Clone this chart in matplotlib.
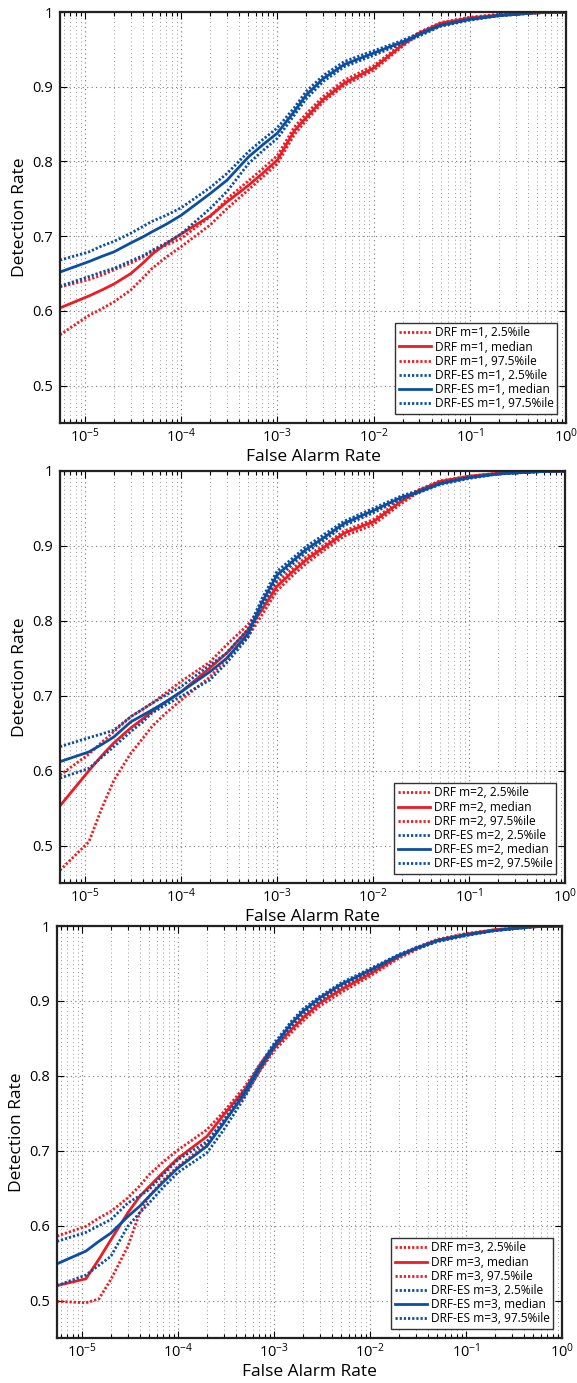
import matplotlib
matplotlib.use('Agg')
import matplotlib.pyplot as plt
from matplotlib.ticker import LogLocator, FixedLocator, FuncFormatter, NullFormatter

plt.rcParams['font.family'] = ['Open Sans', 'DejaVu Sans']
plt.rcParams['mathtext.fontset'] = 'custom'
plt.rcParams['mathtext.rm'] = 'Open Sans'
plt.rcParams['mathtext.it'] = 'Open Sans:italic'
plt.rcParams['mathtext.bf'] = 'Open Sans:bold'

# ---------------- data ----------------
far = [5.5e-6, 1.1e-5, 1.5e-5, 2e-5, 3e-5, 4e-5, 5e-5, 7e-5, 1e-4, 2e-4, 3e-4, 5e-4, 7e-4,
       1e-3, 1.5e-3, 2e-3, 3e-3, 5e-3, 1e-2, 2e-2, 3e-2, 5e-2, 1e-1, 2e-1, 5e-1, 1.0]

# m = 1
drf1_lo  = [0.568, 0.594, 0.603, 0.612, 0.628, 0.644, 0.657, 0.672, 0.686, 0.715, 0.737, 0.762, 0.779,
            0.797, 0.836, 0.855, 0.880, 0.902, 0.922, 0.954, 0.971, 0.984, 0.991, 0.995, 0.999, 1.0]
drf1_med = [0.604, 0.620, 0.628, 0.636, 0.650, 0.664, 0.676, 0.690, 0.703, 0.727, 0.746, 0.768, 0.784,
            0.802, 0.841, 0.859, 0.883, 0.905, 0.925, 0.956, 0.972, 0.985, 0.992, 0.996, 0.999, 1.0]
drf1_hi  = [0.632, 0.642, 0.648, 0.655, 0.664, 0.672, 0.680, 0.688, 0.697, 0.726, 0.750, 0.774, 0.790,
            0.808, 0.846, 0.864, 0.887, 0.909, 0.928, 0.958, 0.973, 0.986, 0.993, 0.997, 0.999, 1.0]
es1_lo   = [0.633, 0.646, 0.652, 0.657, 0.667, 0.674, 0.681, 0.691, 0.703, 0.737, 0.760, 0.797, 0.814,
            0.831, 0.862, 0.884, 0.907, 0.927, 0.942, 0.958, 0.968, 0.981, 0.989, 0.995, 0.999, 1.0]
es1_med  = [0.652, 0.666, 0.673, 0.679, 0.691, 0.699, 0.706, 0.716, 0.728, 0.757, 0.775, 0.806, 0.822,
            0.838, 0.867, 0.889, 0.911, 0.930, 0.945, 0.960, 0.970, 0.982, 0.990, 0.995, 0.999, 1.0]
es1_hi   = [0.668, 0.679, 0.687, 0.693, 0.704, 0.713, 0.720, 0.728, 0.738, 0.765, 0.784, 0.813, 0.829,
            0.845, 0.872, 0.894, 0.915, 0.934, 0.948, 0.962, 0.972, 0.983, 0.991, 0.996, 0.999, 1.0]

# m = 2
drf2_lo  = [0.467, 0.505, 0.550, 0.587, 0.623, 0.643, 0.659, 0.677, 0.694, 0.725, 0.750, 0.779, 0.808,
            0.840, 0.862, 0.876, 0.893, 0.913, 0.928, 0.957, 0.972, 0.985, 0.992, 0.996, 0.999, 1.0]
drf2_med = [0.553, 0.600, 0.620, 0.637, 0.657, 0.669, 0.679, 0.692, 0.705, 0.737, 0.757, 0.788, 0.815,
            0.846, 0.867, 0.881, 0.897, 0.917, 0.932, 0.960, 0.974, 0.986, 0.993, 0.997, 0.999, 1.0]
drf2_hi  = [0.594, 0.622, 0.638, 0.652, 0.672, 0.682, 0.690, 0.704, 0.719, 0.745, 0.768, 0.795, 0.820,
            0.851, 0.871, 0.885, 0.900, 0.920, 0.935, 0.962, 0.975, 0.987, 0.993, 0.997, 0.999, 1.0]
es2_lo   = [0.590, 0.603, 0.618, 0.632, 0.652, 0.665, 0.677, 0.688, 0.699, 0.721, 0.744, 0.778, 0.820,
            0.856, 0.877, 0.891, 0.906, 0.927, 0.944, 0.963, 0.971, 0.982, 0.990, 0.996, 0.999, 1.0]
es2_med  = [0.612, 0.625, 0.635, 0.645, 0.665, 0.674, 0.681, 0.692, 0.705, 0.732, 0.750, 0.783, 0.825,
            0.861, 0.881, 0.895, 0.910, 0.930, 0.947, 0.965, 0.972, 0.983, 0.991, 0.996, 0.999, 1.0]
es2_hi   = [0.632, 0.644, 0.649, 0.654, 0.672, 0.682, 0.690, 0.701, 0.712, 0.741, 0.757, 0.789, 0.830,
            0.866, 0.885, 0.899, 0.914, 0.933, 0.950, 0.967, 0.974, 0.984, 0.992, 0.996, 0.999, 1.0]

# m = 3
drf3_lo  = [0.499, 0.497, 0.502, 0.528, 0.572, 0.617, 0.639, 0.661, 0.679, 0.709, 0.739, 0.775, 0.805,
            0.833, 0.857, 0.873, 0.893, 0.911, 0.933, 0.957, 0.968, 0.980, 0.988, 0.994, 0.999, 1.0]
drf3_med = [0.520, 0.529, 0.555, 0.581, 0.617, 0.639, 0.652, 0.671, 0.690, 0.719, 0.748, 0.782, 0.810,
            0.837, 0.861, 0.877, 0.897, 0.915, 0.936, 0.959, 0.970, 0.981, 0.989, 0.995, 0.999, 1.0]
drf3_hi  = [0.586, 0.599, 0.610, 0.619, 0.637, 0.653, 0.668, 0.685, 0.701, 0.728, 0.752, 0.786, 0.814,
            0.840, 0.864, 0.880, 0.899, 0.918, 0.938, 0.961, 0.971, 0.982, 0.990, 0.995, 0.999, 1.0]
es3_lo   = [0.520, 0.534, 0.547, 0.559, 0.599, 0.617, 0.630, 0.651, 0.671, 0.697, 0.728, 0.772, 0.806,
            0.837, 0.866, 0.883, 0.901, 0.920, 0.939, 0.960, 0.969, 0.979, 0.987, 0.994, 0.999, 1.0]
es3_med  = [0.549, 0.566, 0.579, 0.590, 0.612, 0.626, 0.639, 0.658, 0.677, 0.706, 0.737, 0.778, 0.810,
            0.840, 0.869, 0.886, 0.904, 0.922, 0.941, 0.961, 0.970, 0.980, 0.988, 0.994, 0.999, 1.0]
es3_hi   = [0.579, 0.591, 0.600, 0.608, 0.630, 0.640, 0.648, 0.668, 0.688, 0.712, 0.741, 0.781, 0.813,
            0.843, 0.872, 0.889, 0.906, 0.924, 0.943, 0.962, 0.971, 0.981, 0.989, 0.994, 0.999, 1.0]

series_labels = ['DRF m={m}, 2.5%ile', 'DRF m={m}, median', 'DRF m={m}, 97.5%ile',
                 'DRF-ES m={m}, 2.5%ile', 'DRF-ES m={m}, median', 'DRF-ES m={m}, 97.5%ile']
panels_data = [
    (1, [drf1_lo, drf1_med, drf1_hi, es1_lo, es1_med, es1_hi]),
    (2, [drf2_lo, drf2_med, drf2_hi, es2_lo, es2_med, es2_hi]),
    (3, [drf3_lo, drf3_med, drf3_hi, es3_lo, es3_med, es3_hi]),
]
y_ticks = [0.5, 0.6, 0.7, 0.8, 0.9, 1.0]

# ---------------- style ----------------
RED = '#EC1C24'
BLUE = '#0B4EA2'
colors = [RED, RED, RED, BLUE, BLUE, BLUE]
styles = ['dot', 'solid', 'dot', 'dot', 'solid', 'dot']

W, H = 577, 1383
fig = plt.figure(figsize=(W / 100, H / 100), dpi=100)

boxes = [(60, 12, 566, 423), (60, 471, 565, 883), (57, 926, 562, 1338)]

for (m, curves), (l, t, r, b) in zip(panels_data, boxes):
    ax = fig.add_axes([l / W, 1 - b / H, (r - l) / W, (b - t) / H])
    for yv, c, st, lab in zip(curves, colors, styles, series_labels):
        if st == 'solid':
            ax.plot(far, yv, color=c, lw=2.0, solid_joinstyle='round', label=lab.format(m=m))
        else:
            ax.plot(far, yv, color=c, lw=2.0, linestyle=(0, (0.8, 0.7)),
                    dash_capstyle='butt', label=lab.format(m=m))
    ax.set_xscale('log')
    ax.set_xlim(5.5e-6, 1.0)
    ax.set_ylim(0.45, 1.0)
    ax.xaxis.set_major_locator(LogLocator(base=10, numticks=10))
    ax.xaxis.set_minor_locator(LogLocator(base=10, subs=range(2, 10), numticks=20))
    ax.xaxis.set_minor_formatter(NullFormatter())
    ax.yaxis.set_major_locator(FixedLocator(y_ticks))
    ax.yaxis.set_major_formatter(FuncFormatter(lambda v, p: '%g' % v))
    ax.tick_params(which='both', direction='in', top=True, right=True, labelsize=10.5,
                   width=0.8)
    ax.tick_params(axis='x', pad=3)
    ax.tick_params(axis='y', pad=5)
    ax.tick_params(which='major', length=5)
    ax.tick_params(which='minor', length=3)
    ax.grid(True, which='major', axis='both', linestyle=(0, (1, 3)), color='#777777', lw=0.8)
    ax.grid(True, which='minor', axis='x', linestyle=(0, (1, 3)), color='#999999', lw=0.7)
    ax.set_axisbelow(True)
    for s in ax.spines.values():
        s.set_linewidth(1.6)
        s.set_color('#222222')
    ax.set_xlabel('False Alarm Rate', fontsize=12.5, labelpad=2)
    ax.set_ylabel('Detection Rate', fontsize=12.5, labelpad=3)
    leg = ax.legend(loc='lower right', fontsize=8.6, frameon=True, fancybox=False,
                    edgecolor='#333333', framealpha=1, handlelength=2.7,
                    borderaxespad=0.75, labelspacing=0.1, handletextpad=0.3, borderpad=0.3)
    leg.get_frame().set_linewidth(1.0)

fig.savefig('out.png', dpi=100)
